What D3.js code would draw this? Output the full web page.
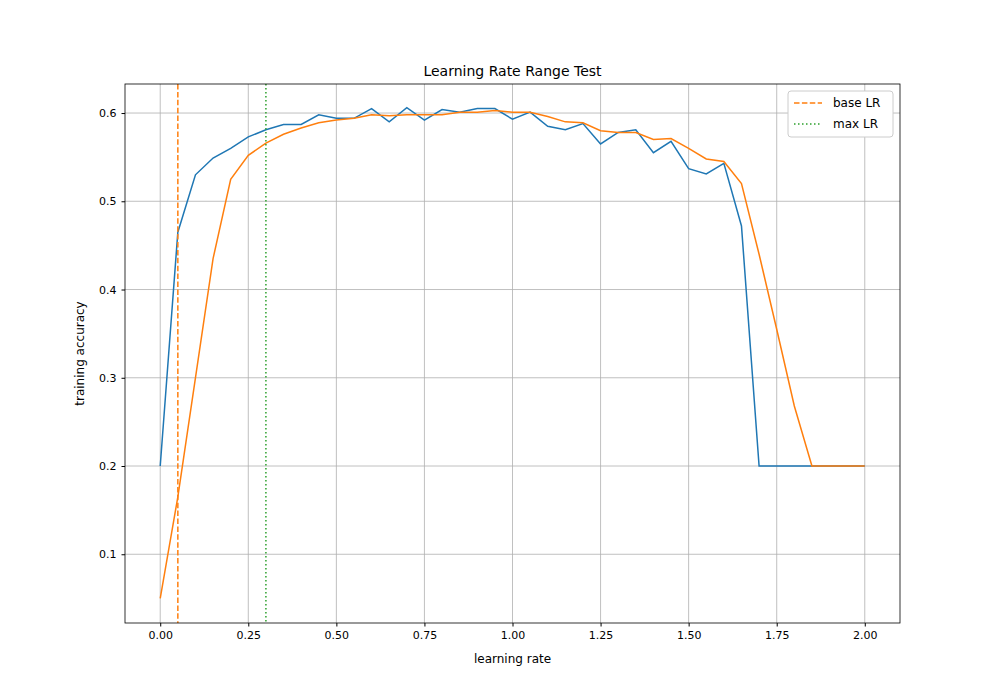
<!DOCTYPE html>
<html>
<head>
<meta charset="utf-8">
<script src="https://cdn.jsdelivr.net/npm/d3@7"></script>
<style>
body { margin: 0; background: #fff; font-family: "DejaVu Sans", sans-serif; }
.grid line { stroke: #b0b0b0; stroke-width: 0.8; }
.axis text { font-size: 11px; fill: #000; font-family: "DejaVu Sans", sans-serif; }
</style>
</head>
<body>
<div id="graph"></div>
<script>
var lrs = d3.range(41).map(function(i) { return i * 0.05; });
var accRaw = [0.200, 0.465, 0.530, 0.549, 0.560, 0.573, 0.581, 0.587, 0.587, 0.598,
  0.594, 0.594, 0.605, 0.590, 0.606, 0.592, 0.604, 0.601, 0.605, 0.605,
  0.593, 0.601, 0.585, 0.581, 0.588, 0.565, 0.578, 0.581, 0.555, 0.568,
  0.537, 0.531, 0.543, 0.472, 0.200, 0.200, 0.200, 0.200, 0.200, 0.200, 0.200];
var accSmooth = [0.050, 0.165, 0.300, 0.435, 0.525, 0.552, 0.566, 0.576, 0.583, 0.589,
  0.592, 0.594, 0.598, 0.597, 0.598, 0.598, 0.598, 0.601, 0.601, 0.603,
  0.601, 0.601, 0.596, 0.590, 0.589, 0.580, 0.578, 0.578, 0.570, 0.571,
  0.560, 0.548, 0.545, 0.520, 0.440, 0.355, 0.268, 0.200, 0.200, 0.200, 0.200];
var xTicks = [0, 0.25, 0.5, 0.75, 1.0, 1.25, 1.5, 1.75, 2.0];
var yTicks = [0.1, 0.2, 0.3, 0.4, 0.5, 0.6];
var baseLR = 0.05;
var maxLR = 0.3;

var width = 1000, height = 700;
var pLeft = 125, pRight = 900, pTop = 84, pBottom = 623;

var x = d3.scaleLinear().domain([-0.1, 2.1]).range([pLeft, pRight]);
var y = d3.scaleLinear().domain([0.0221, 0.6329]).range([pBottom, pTop]);

var svg = d3.select("#graph").append("svg").attr("width", width).attr("height", height);

//grid
var grid = svg.append("g").attr("class", "grid");
grid.selectAll(".gx").data(xTicks).enter().append("line")
  .attr("x1", function(d) { return x(d); }).attr("x2", function(d) { return x(d); })
  .attr("y1", pTop).attr("y2", pBottom);
grid.selectAll(".gy").data(yTicks).enter().append("line")
  .attr("y1", function(d) { return y(d); }).attr("y2", function(d) { return y(d); })
  .attr("x1", pLeft).attr("x2", pRight);

var line = function(vals) {
  return d3.line().x(function(d, i) { return x(lrs[i]); }).y(function(d) { return y(d); })(vals);
};
svg.append("path").attr("d", line(accRaw)).attr("fill", "none").attr("stroke", "#1f77b4").attr("stroke-width", 1.5);
svg.append("path").attr("d", line(accSmooth)).attr("fill", "none").attr("stroke", "#ff7f0e").attr("stroke-width", 1.5);

svg.append("line").attr("x1", x(baseLR)).attr("x2", x(baseLR)).attr("y1", pTop).attr("y2", pBottom)
  .attr("stroke", "#ff7f0e").attr("stroke-width", 1.5).attr("stroke-dasharray", "5.5,2.4");
svg.append("line").attr("x1", x(maxLR)).attr("x2", x(maxLR)).attr("y1", pTop).attr("y2", pBottom)
  .attr("stroke", "#2ca02c").attr("stroke-width", 1.5).attr("stroke-dasharray", "1.5,2.5");

//axes
svg.append("g").attr("class", "axis").attr("transform", "translate(0," + pBottom + ")")
  .call(d3.axisBottom(x).tickValues(xTicks).tickFormat(d3.format(".2f")).tickSizeOuter(0).tickSize(3.5).tickPadding(5));
svg.append("g").attr("class", "axis").attr("transform", "translate(" + pLeft + ",0)")
  .call(d3.axisLeft(y).tickValues(yTicks).tickFormat(d3.format(".1f")).tickSizeOuter(0).tickSize(3.5).tickPadding(5));
svg.selectAll(".axis .domain").remove();
svg.append("rect").attr("x", pLeft).attr("y", pTop).attr("width", pRight - pLeft).attr("height", pBottom - pTop)
  .attr("fill", "none").attr("stroke", "#000").attr("stroke-width", 0.8);

svg.append("text").attr("x", (pLeft + pRight) / 2).attr("y", pTop - 8).attr("text-anchor", "middle")
  .attr("font-size", 14).text("Learning Rate Range Test");
svg.append("text").attr("x", (pLeft + pRight) / 2).attr("y", 663).attr("text-anchor", "middle")
  .attr("font-size", 12).text("learning rate");
svg.append("text").attr("transform", "translate(84," + ((pTop + pBottom) / 2) + ") rotate(-90)")
  .attr("text-anchor", "middle").attr("font-size", 12).text("training accuracy");

//legend
var lg = svg.append("g").attr("transform", "translate(788,91)");
lg.append("rect").attr("width", 105).attr("height", 46).attr("rx", 3).attr("fill", "#fff")
  .attr("stroke", "#ccc");
lg.append("line").attr("x1", 6).attr("x2", 34).attr("y1", 12).attr("y2", 12)
  .attr("stroke", "#ff7f0e").attr("stroke-width", 1.5).attr("stroke-dasharray", "5.5,2.4");
lg.append("line").attr("x1", 6).attr("x2", 34).attr("y1", 33).attr("y2", 33)
  .attr("stroke", "#2ca02c").attr("stroke-width", 1.5).attr("stroke-dasharray", "1.5,2.5");
lg.append("text").attr("x", 45).attr("y", 16).attr("font-size", 12).text("base LR");
lg.append("text").attr("x", 45).attr("y", 37).attr("font-size", 12).text("max LR");
</script>
</body>
</html>
